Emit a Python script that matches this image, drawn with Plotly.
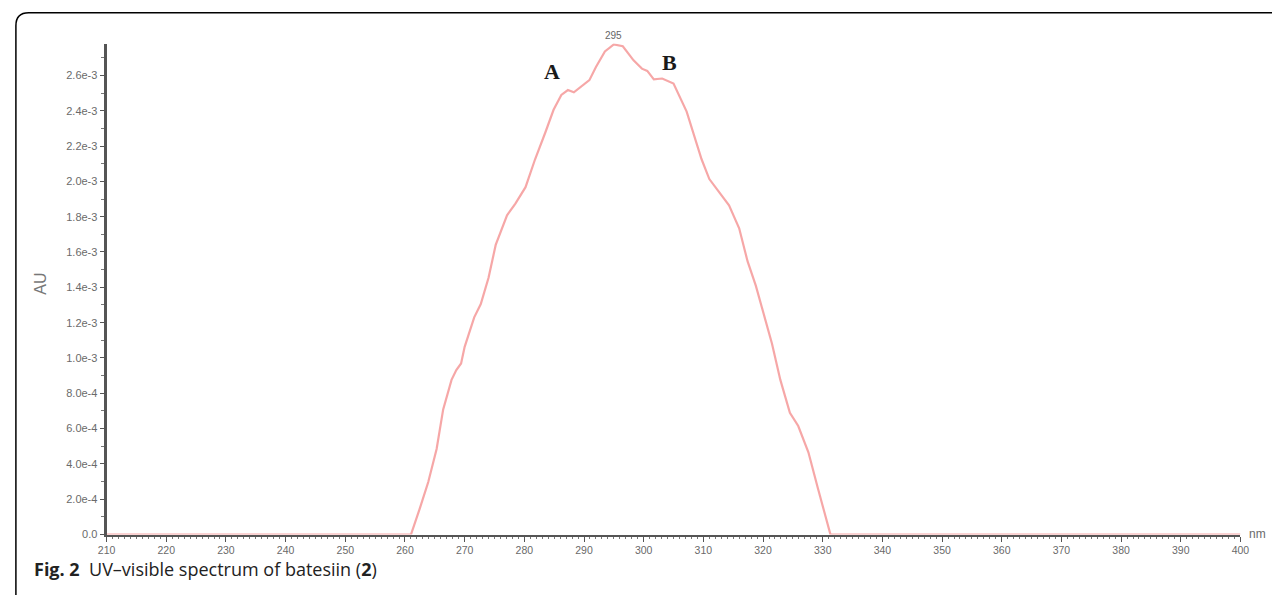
import plotly.graph_objects as go

# UV-visible absorbance spectrum of batesiin (2)
wavelength_nm = [
    210.0, 261.0, 262.5, 263.9, 265.3, 266.4, 267.8, 268.6, 269.4, 270.0,
    271.6, 272.7, 274.0, 275.2, 277.1, 278.5, 280.2, 281.8, 283.5, 284.9,
    286.2, 287.3, 288.3, 289.5, 290.9, 292.0, 293.5, 295.0, 296.5, 298.3,
    299.7, 300.6, 301.7, 303.1, 305.0, 307.2, 308.3, 309.7, 311.0, 312.7,
    314.3, 316.0, 317.4, 318.8, 320.1, 321.5, 322.9, 324.5, 325.9, 327.6,
    329.2, 331.3, 400.0,
]
absorbance_au = [
    0.0, 0.0, 0.000150, 0.000298, 0.000485, 0.000709, 0.000876, 0.000932, 0.000969, 0.001063,
    0.001230, 0.001305, 0.001454, 0.001640, 0.001808, 0.001874, 0.001967, 0.002125, 0.002275, 0.002405,
    0.002489, 0.002517, 0.002504, 0.002535, 0.002573, 0.002647, 0.002735, 0.002775, 0.002765, 0.002685,
    0.002638, 0.002625, 0.002577, 0.002582, 0.002554, 0.002395, 0.002275, 0.002125, 0.002013, 0.001939,
    0.001864, 0.001734, 0.001548, 0.001408, 0.001249, 0.001081, 0.000876, 0.000690, 0.000615, 0.000466,
    0.000261, 0.0, 0.0,
]

# axis ticks
x_tick_values = list(range(210, 401, 10))
y_tick_values = [0.0, 0.0002, 0.0004, 0.0006, 0.0008, 0.0010, 0.0012, 0.0014,
                 0.0016, 0.0018, 0.0020, 0.0022, 0.0024, 0.0026]
y_tick_labels = ["0.0", "2.0e-4", "4.0e-4", "6.0e-4", "8.0e-4", "1.0e-3", "1.2e-3",
                 "1.4e-3", "1.6e-3", "1.8e-3", "2.0e-3", "2.2e-3", "2.4e-3", "2.6e-3"]

# peak markers
peak_wavelength = 295
band_labels = ["A", "B"]
band_positions = [284.7, 304.3]

W, H = 1281, 601


def px(x):
    return x / W


def py(y):
    return 1 - y / H


fig = go.Figure()
fig.add_trace(go.Scatter(
    x=wavelength_nm, y=absorbance_au, mode="lines",
    line=dict(color="rgba(235,60,60,0.45)", width=2.2),
    hoverinfo="x+y", showlegend=False,
))

sans = "Liberation Sans, Arial, sans-serif"

fig.update_layout(
    width=W, height=H,
    margin=dict(l=0, r=0, t=0, b=0),
    paper_bgcolor="white", plot_bgcolor="white",
    xaxis=dict(
        domain=[px(99), px(1249)],
        range=[210, 400],
        tickvals=x_tick_values,
        ticks="outside", ticklen=5, tickwidth=1, tickcolor="#555",
        minor=dict(dtick=1, ticklen=2, tickwidth=1, tickcolor="#777", ticks="outside"),
        showline=True, linecolor="#555", linewidth=2,
        showgrid=False, zeroline=False,
        tickfont=dict(family=sans, size=10.5, color="#6a6a6a"),
        layer="below traces",
    ),
    yaxis=dict(
        domain=[py(540), py(44)],
        range=[0, 0.00278],
        tickvals=y_tick_values, ticktext=y_tick_labels,
        ticks="outside", ticklen=4, tickwidth=1, tickcolor="#555",
        minor=dict(dtick=0.0001, ticklen=3, tickwidth=1, tickcolor="#777", ticks="outside"),
        showline=True, linecolor="#555", linewidth=3,
        showgrid=False, zeroline=False,
        tickfont=dict(family=sans, size=11, color="#6a6a6a"),
        layer="below traces",
    ),
    shapes=[
        # figure frame: rounded top-left corner, open on the right and bottom
        dict(type="path", xref="paper", yref="paper",
             path=(f"M {px(7)},{py(601)} L {px(7)},{py(26)} "
                   f"Q {px(7)},{py(13)} {px(20)},{py(13)} L {px(1281)},{py(13)}"),
             line=dict(color="black", width=1.5)),
    ],
)

annotations = [
    dict(x=px(32), y=py(287), xref="paper", yref="paper", text="AU", textangle=-90,
         xanchor="center", yanchor="middle",
         showarrow=False, font=dict(family=sans, size=16, color="#777")),
    dict(x=peak_wavelength, y=py(36), xref="x", yref="paper", text=str(peak_wavelength),
         xanchor="center", yanchor="middle",
         showarrow=False, font=dict(family=sans, size=10, color="#666")),
    dict(x=px(1256), y=py(539), xref="paper", yref="paper", text="nm", xanchor="left",
         yanchor="middle", showarrow=False, font=dict(family=sans, size=12, color="#6a6a6a")),
    dict(x=px(23), y=py(575), xref="paper", yref="paper", xanchor="left", yanchor="middle",
         text="<b>Fig. 2</b>  UV–visible spectrum of batesiin (<b>2</b>)", showarrow=False,
         font=dict(family="Open Sans, Noto Sans, sans-serif", size=18, color="#222")),
]
band_y = [72, 63]
for lbl, xpos, ypix in zip(band_labels, band_positions, band_y):
    annotations.append(dict(x=xpos, y=py(ypix), xref="x", yref="paper", text=f"<b>{lbl}</b>",
                            xanchor="center", yanchor="middle", showarrow=False,
                            font=dict(family="Liberation Serif, DejaVu Serif, serif", size=22,
                                      color="#1a1a1a")))
fig.update_layout(annotations=annotations)

fig.write_html(
    "out.html",
    post_script="document.body.style.margin='0';document.body.style.overflow='hidden';",
)
